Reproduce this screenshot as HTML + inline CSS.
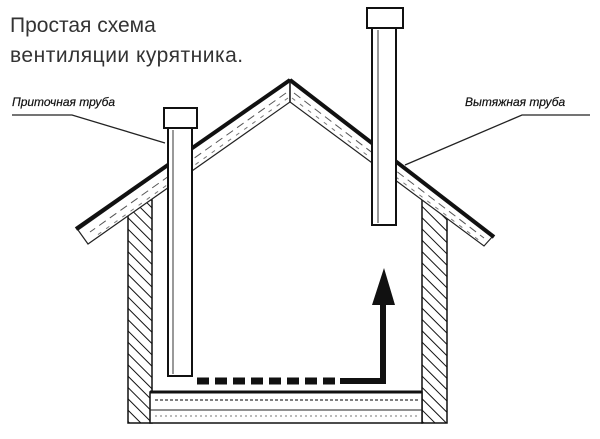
<!DOCTYPE html>
<html><head><meta charset="utf-8"><style>
html,body{margin:0;padding:0;background:#fff;}
svg{display:block}
</style></head><body>
<svg width="600" height="439" viewBox="0 0 600 439" xmlns="http://www.w3.org/2000/svg">
<defs>
<pattern id="hatch" width="8" height="8" patternUnits="userSpaceOnUse" patternTransform="rotate(-45)">
<line x1="0" y1="0" x2="0" y2="8" stroke="#111" stroke-width="2"/>
</pattern>
</defs>
<rect width="600" height="439" fill="#fff"/>
<text x="10" y="32" font-family="Liberation Sans, sans-serif" font-size="21" fill="#333">Простая схема</text>
<text x="10" y="62" font-family="Liberation Sans, sans-serif" font-size="21" fill="#333" letter-spacing="0.5">вентиляции курятника.</text>
<text x="12" y="106" font-family="Liberation Sans, sans-serif" font-size="12" font-style="italic" fill="#111" stroke="#111" stroke-width="0.2">Приточная труба</text>
<text x="465" y="106" font-family="Liberation Sans, sans-serif" font-size="12" font-style="italic" fill="#111" stroke="#111" stroke-width="0.2">Вытяжная труба</text>
<polyline points="12,115 72,115 165,143" fill="none" stroke="#222" stroke-width="1.3"/>
<polyline points="590,115 522,115 405,165" fill="none" stroke="#222" stroke-width="1.3"/>
<!-- walls -->
<rect x="128" y="200" width="24" height="223" fill="url(#hatch)" stroke="#111" stroke-width="1.5"/>
<rect x="422" y="200" width="25" height="223" fill="url(#hatch)" stroke="#111" stroke-width="1.5"/>
<!-- floor -->
<rect x="150" y="392" width="272" height="31" fill="#fff" stroke="#111" stroke-width="1.5"/>
<line x1="150" y1="392" x2="422" y2="392" stroke="#111" stroke-width="3"/>
<line x1="150" y1="410" x2="422" y2="410" stroke="#222" stroke-width="1"/>
<line x1="155" y1="400" x2="418" y2="400" stroke="#555" stroke-width="1.5" stroke-dasharray="3 2"/>
<line x1="155" y1="416" x2="418" y2="416" stroke="#777" stroke-width="1" stroke-dasharray="2 3"/>
<!-- roof -->
<polygon points="290,80 78,230 88,244 290,102" fill="#fff" stroke="#222" stroke-width="1.2"/>
<polygon points="290,80 493,236 484,246 290,102" fill="#fff" stroke="#222" stroke-width="1.2"/>
<line x1="290" y1="80" x2="76" y2="229" stroke="#111" stroke-width="4"/>
<line x1="290" y1="80" x2="494" y2="237" stroke="#111" stroke-width="4"/>
<line x1="286" y1="93" x2="90" y2="232" stroke="#555" stroke-width="1" stroke-dasharray="8 5"/>
<line x1="288" y1="98" x2="96" y2="236" stroke="#777" stroke-width="1" stroke-dasharray="4 6"/>
<line x1="294" y1="93" x2="484" y2="238" stroke="#555" stroke-width="1" stroke-dasharray="8 5"/>
<line x1="292" y1="98" x2="480" y2="241" stroke="#777" stroke-width="1" stroke-dasharray="4 6"/>
<line x1="290" y1="82" x2="290" y2="102" stroke="#222" stroke-width="1.5"/>
<!-- intake pipe -->
<rect x="168" y="128" width="24" height="248" fill="#fff" stroke="#111" stroke-width="2"/>
<line x1="173" y1="130" x2="173" y2="374" stroke="#333" stroke-width="1"/>
<rect x="164" y="108" width="33" height="20" fill="#fff" stroke="#111" stroke-width="2"/>
<!-- exhaust pipe -->
<rect x="372" y="28" width="24" height="197" fill="#fff" stroke="#111" stroke-width="2"/>
<line x1="378" y1="30" x2="378" y2="223" stroke="#333" stroke-width="1"/>
<rect x="367" y="8" width="36" height="20" fill="#fff" stroke="#111" stroke-width="2"/>
<!-- arrow -->
<line x1="197" y1="381" x2="340" y2="381" stroke="#111" stroke-width="7" stroke-dasharray="12 6"/>
<polyline points="340,381 383,381 383,303" fill="none" stroke="#111" stroke-width="6"/>
<polygon points="372,305 395,305 384,268" fill="#111"/>
</svg>
</body></html>
